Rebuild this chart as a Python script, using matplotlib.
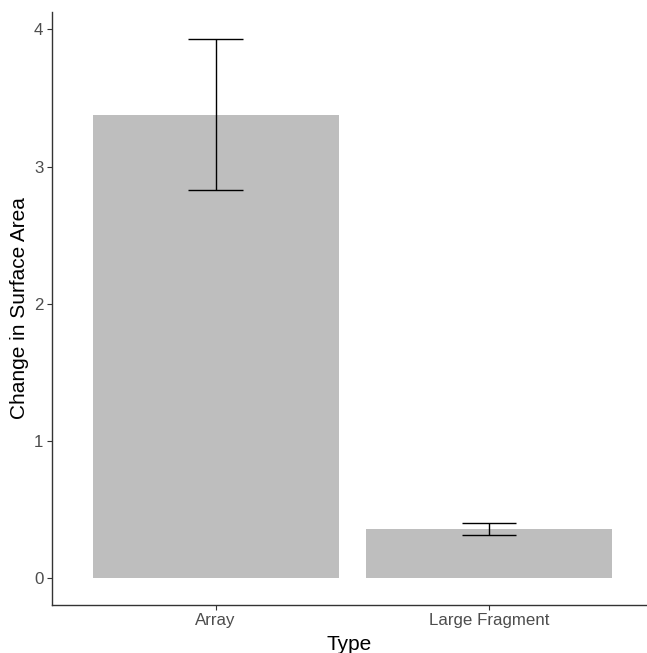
import numpy as np
import matplotlib.pyplot as plt

plt.rcParams['font.family'] = ['Liberation Sans', 'DejaVu Sans']

# data
types = ['Array', 'Large Fragment']
means = [3.38, 0.36]
err_low = [2.83, 0.313]
err_high = [3.93, 0.398]

x = np.arange(1, len(types) + 1)

fig = plt.figure(figsize=(6.47, 6.53), dpi=100)
ax = fig.add_axes([0.0799, 0.0735, 0.9201, 0.908])

ax.bar(x, means, width=0.9, color='#bebebe', zorder=1)

# error bars, whisker width 0.2 like geom_errorbar
ax.vlines(x, err_low, err_high, color='black', lw=1.0, zorder=2)
ax.hlines(err_low, x - 0.1, x + 0.1, color='black', lw=1.0, zorder=2)
ax.hlines(err_high, x - 0.1, x + 0.1, color='black', lw=1.0, zorder=2)

ax.set_xlim(0.4, 2.578)
ax.set_ylim(-0.197, 4.127)

ax.set_xticks(x)
ax.set_xticklabels(types)
ax.set_yticks([0, 1, 2, 3, 4])
ax.tick_params(axis='both', direction='out', length=3.5, width=0.8,
               color='#333333', labelcolor='#4d4d4d', labelsize=12.2, pad=2.5)

for side in ['top', 'right']:
    ax.spines[side].set_visible(False)
for side in ['left', 'bottom']:
    ax.spines[side].set_color('#333333')
    ax.spines[side].set_linewidth(1.0)

ax.set_xlabel('Type', fontsize=15, labelpad=4.5)
ax.set_ylabel('Change in Surface Area', fontsize=15, labelpad=3.5)

fig.savefig('out.png', dpi=100)
